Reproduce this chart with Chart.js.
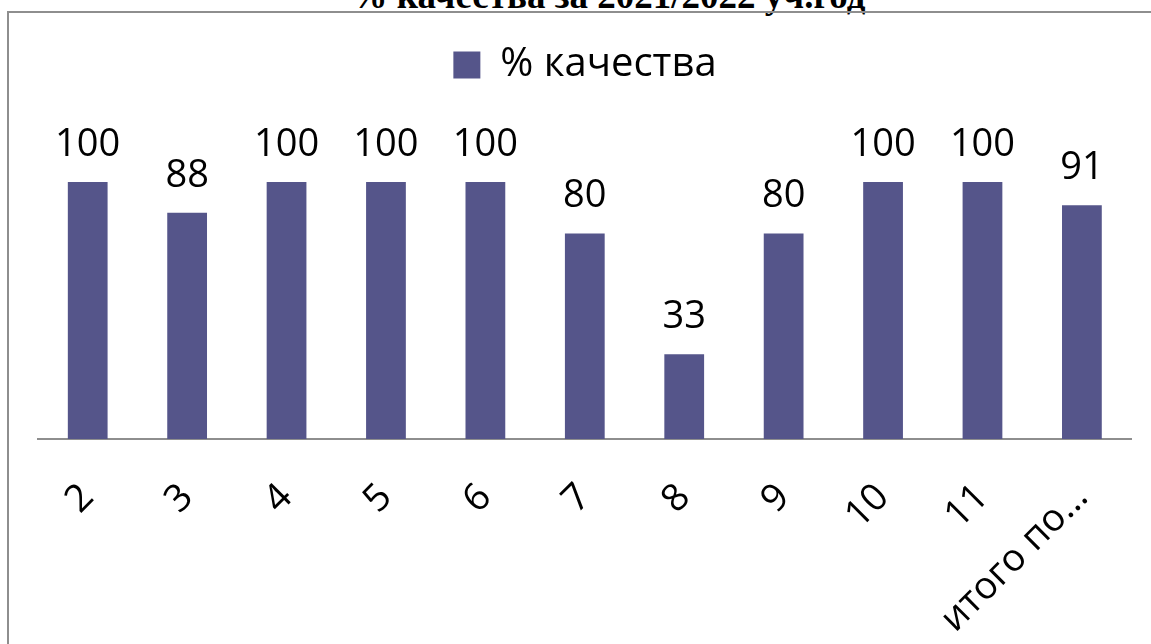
<!DOCTYPE html>
<html lang="ru">
<head>
<meta charset="utf-8">
<title>% качества за 2021/2022 уч.год</title>
<script src="https://cdn.jsdelivr.net/npm/chart.js@4.4.1/dist/chart.umd.min.js"></script>
<style>
  html, body { margin: 0; padding: 0; background: #fff; overflow: hidden; }
  #wrap { position: relative; width: 1151px; height: 644px; overflow: hidden; }
  #title {
    position: absolute; left: 0; width: 1216px; top: -23px;
    text-align: center; white-space: nowrap;
    font: bold 37px "Liberation Serif", "Times New Roman", serif; line-height: 37px;
  }
  #frame {
    position: absolute; left: 7px; top: 11px; width: 1160px; height: 660px;
    border-left: 2px solid #8e8e8e; border-top: 2px solid #8e8e8e;
  }
  canvas { position: absolute; left: 0; top: 0; }
</style>
</head>
<body>
<div id="wrap">
  <div id="title">% качества за 2021/2022 уч.год</div>
  <div id="frame"></div>
  <canvas id="qualityChart" width="1151" height="644"></canvas>
</div>
<script>
// данные диаграммы
const categories = ['2', '3', '4', '5', '6', '7', '8', '9', '10', '11', 'итого по…'];
const qualityPct = [100, 88, 100, 100, 100, 80, 33, 80, 100, 100, 91];
const seriesName = '% качества';

const barColor = '#55558a';
const fontFamily = '"Open Sans", "Noto Sans", sans-serif';

// легенда занимает место до верхней границы области построения
const legendSpacer = {
    id: 'legendSpacer',
    beforeInit(chart) {
        const fit = chart.legend.fit;
        chart.legend.fit = function() {
            fit.call(this);
            this.height = 147;
        };
    }
};

// подписи значений над столбцами
const valueLabels = {
    id: 'valueLabels',
    afterDatasetsDraw(chart) {
        const ctx = chart.ctx;
        const values = chart.data.datasets[0].data;
        ctx.save();
        ctx.font = '38px ' + fontFamily;
        ctx.fillStyle = '#000';
        ctx.textAlign = 'center';
        ctx.textBaseline = 'alphabetic';
        chart.getDatasetMeta(0).data.forEach(function(bar, i) {
            ctx.fillText(String(values[i]), bar.x, bar.y - 26);
        });
        ctx.restore();
    }
};

const ctx = document.getElementById('qualityChart').getContext('2d');
new Chart(ctx, {
    type: 'bar',
    data: {
        labels: categories,
        datasets: [{
            label: seriesName,
            data: qualityPct,
            backgroundColor: barColor,
            barPercentage: 0.4,
            categoryPercentage: 1
        }]
    },
    options: {
        responsive: false,
        animation: false,
        layout: { padding: { left: 38, right: 19, top: 35, bottom: 0 } },
        plugins: {
            legend: {
                position: 'top',
                labels: {
                    font: { family: fontFamily, size: 40 },
                    color: '#000',
                    boxWidth: 27,
                    boxHeight: 27,
                    padding: 10
                }
            },
            tooltip: { enabled: false }
        },
        scales: {
            x: {
                grid: { display: false, drawTicks: false },
                border: { color: '#8e8e8e', width: 2 },
                ticks: {
                    font: { family: fontFamily, size: 38 },
                    color: '#000',
                    minRotation: 45,
                    maxRotation: 45,
                    autoSkip: false,
                    padding: 36
                },
                afterFit(scale) { scale.height = 205; }
            },
            y: { display: false, min: 0, max: 100 }
        }
    },
    plugins: [legendSpacer, valueLabels]
});
</script>
</body>
</html>
